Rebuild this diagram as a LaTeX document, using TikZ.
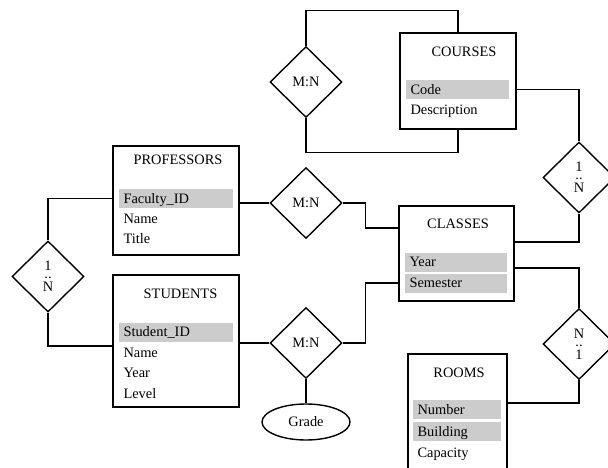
\documentclass[tikz,border=0pt]{standalone}
\usepackage{fontspec}
\setmainfont{Liberation Serif}
\usetikzlibrary{shapes.geometric}
\definecolor{keygray}{HTML}{CCCCCC}
\begin{document}
\begin{tikzpicture}[x=1pt,y=-1pt,
  every node/.style={font=\fontsize{14.4}{17}\selectfont},
  conn/.style={line width=1.4pt},
  thickconn/.style={line width=2.6pt},
  box/.style={draw, line width=1.4pt, inner sep=0pt, fill=white},
  lbl/.style={inner sep=0pt, text height=12pt, text depth=2.5pt},
  row/.style={inner xsep=4.5pt, inner ysep=0pt, text height=12pt, text depth=2.5pt,
    minimum height=19pt, text width=#1, align=left},
  keyrow/.style={row=#1, fill=keygray},
  rel/.style={draw, diamond, line width=1.4pt, inner sep=0pt, minimum width=72pt,
    minimum height=71pt, fill=white},
  stack/.style={align=center}
]
\fill[white] (0,0) rectangle (608,468);
\clip (0,0) rectangle (608,468);

% entities
\node[box, minimum width=126pt, minimum height=109pt] (profs) at (176,200.5) {};
\node[box, minimum width=126pt, minimum height=132pt] (studs) at (176,341) {};
\node[box, minimum width=116pt, minimum height=96pt] (courses) at (458,81) {};
\node[box, minimum width=115pt, minimum height=95pt] (classes) at (456.5,253.5) {};
\node[box, minimum width=99pt, minimum height=130pt] (rooms) at (457.5,419) {};

% titles
\node[lbl] (proft) at (178,160) {PROFESSORS};
\node[lbl] (studt) at (180.5,294) {STUDENTS};
\node[lbl] (courst) at (464,52) {COURSES};
\node[lbl] (classt) at (458,224) {CLASSES};
\node[lbl] (roomt) at (459,373) {ROOMS};

% attributes
\node[keyrow=105pt] (fid) at (176,198.5) {Faculty\_ID};
\node[row=105pt] (pname) at (176,218.5) {Name};
\node[row=105pt] (ptitle) at (176,238.5) {Title};

\node[keyrow=105pt] (sid) at (176,332) {Student\_ID};
\node[row=105pt] (sname) at (176,352.5) {Name};
\node[row=105pt] (syear) at (176,373) {Year};
\node[row=105pt] (slevel) at (176,393.5) {Level};

\node[keyrow=94pt] (code) at (457.5,89.5) {Code};
\node[row=94pt] (desc) at (457.5,110) {Description};

\node[keyrow=93pt] (cyear) at (456,262) {Year};
\node[keyrow=93pt] (csem) at (456,283) {Semester};

\node[keyrow=79pt] (rnum) at (457,409.5) {Number};
\node[keyrow=79pt] (rbld) at (457,431.5) {Building};
\node[row=79pt] (rcap) at (457,452.5) {Capacity};

% relationships
\node[rel, text height=12pt, text depth=2.5pt] (mn1) at (306,82) {M:N};
\node[rel, text height=12pt, text depth=2.5pt] (mn2) at (306,203) {M:N};
\node[rel, text height=12pt, text depth=2.5pt] (mn3) at (306,343) {M:N};
\node[rel, stack] (d1N) at (48,276.5) {1\\[-9pt]..\\[-4pt]N};
\node[rel, stack] (dR1) at (579,177.5) {1\\[-9pt]..\\[-4pt]N};
\node[rel, stack] (dR2) at (579,344) {N\\[-9pt]..\\[-4pt]1};

\node[draw, ellipse, line width=1.4pt, inner sep=0pt, minimum width=88pt,
  minimum height=36pt, text height=12pt, text depth=2.5pt] (grade) at (306,422) {Grade};

% connectors
\draw[conn] (mn1.north) |- ([yshift=22pt]courses.north) -- (courses.north);
\draw[conn] (mn1.south) |- ([yshift=-23pt]courses.south) -- (courses.south);
\draw[conn] (code.east -| courses.east) -| (dR1.north);
\draw[conn] (dR1.south) |- ([yshift=11.5pt]classes.east);
\draw[conn] ([yshift=-14.5pt]classes.east) -| (dR2.north);
\draw[conn] (dR2.south) |- ([yshift=16pt]rooms.east);
\draw[conn] (fid.west -| profs.west) -| (d1N.north);
\draw[conn] (d1N.south) |- ([yshift=-5pt]studs.west);
\draw[thickconn] (mn2.west -| profs.east) -- (mn2.west);
\draw[thickconn] (mn3.west -| studs.east) -- (mn3.west);
\draw[conn] (mn2.east) -- ++(23,0) |- ([yshift=25.5pt]classes.west);
\draw[conn] (mn3.east) -- ++(23,0) |- ([yshift=-29.5pt]classes.west);
\draw[conn] (mn3.south) -- (grade.north);
\end{tikzpicture}
\end{document}
